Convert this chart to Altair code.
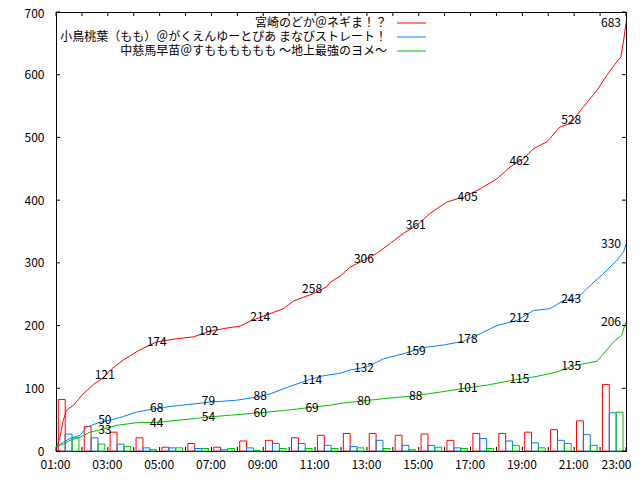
import altair as alt
import pandas as pd

# ---- data ----
names = [
    "宮崎のどか＠ネギま！？",
    "小鳥桃葉（もも）＠がくえんゆーとぴあ まなびストレート！",
    "中慈馬早苗＠すもももももも 〜地上最強のヨメ〜",
]
colors = ["#ff0000", "#0080ff", "#00c000"]

bar_hours = list(range(1, 23))
red_counts = [82, 39, 30, 21, 6, 12, 6, 16, 17, 21, 25, 28, 28, 25, 27, 17, 28, 28, 30, 34, 48, 106]
blue_counts = [27, 21, 11, 5, 5, 4, 2, 5, 12, 12, 9, 7, 17, 9, 9, 5, 20, 16, 13, 17, 26, 61]
green_counts = [21, 11, 7, 2, 5, 4, 4, 1, 4, 4, 4, 5, 4, 2, 6, 4, 4, 9, 5, 12, 9, 62]

red_t = [1.0, 1.15, 1.28, 1.41, 1.67, 2.05, 2.44, 2.83, 3.15, 3.6, 4.18, 4.63, 4.89, 5.66, 6.3,
         6.95, 7.59, 8.1, 8.49, 9.0, 9.78, 10.16, 10.93, 11.45, 11.58, 11.97, 12.35, 12.87, 13.38,
         13.9, 14.41, 14.93, 15.44, 16.08, 16.73, 17.37, 18.02, 18.53, 19.04, 19.43, 19.95, 20.46,
         20.85, 21.36, 21.88, 22.26, 22.65, 22.8, 22.9, 23.0]
red_v = [1, 22, 49, 65, 73, 91, 106, 117, 131, 145, 160, 169, 174, 179, 182,
         191, 196, 199, 207, 215, 227, 239, 251, 262, 269, 279, 293, 304, 315,
         331, 347, 360, 379, 397, 405, 418, 434, 453, 466, 482, 493, 517,
         522, 549, 575, 599, 621, 628, 652, 683]

blue_t = [1.0, 1.28, 1.54, 1.93, 2.18, 2.7, 3.08, 3.6, 4.1, 4.76, 5.4, 6.3, 6.95, 7.98, 8.75,
          9.26, 10.03, 10.8, 11.32, 11.97, 12.35, 13.0, 13.64, 14.41, 15.19, 15.96, 16.73, 17.37,
          18.02, 18.79, 19.43, 20.07, 20.59, 21.1, 21.62, 22.13, 22.65, 22.9, 23.0]
blue_v = [5, 14, 20, 25, 38, 46, 49, 55, 62, 67, 71, 75, 78, 81, 86,
          91, 103, 114, 120, 124, 129, 134, 147, 155, 165, 169, 175, 187,
          200, 208, 224, 227, 240, 243, 264, 283, 304, 317, 330]

green_t = [1.0, 1.28, 1.54, 1.93, 2.31, 2.83, 3.34, 4.1, 5.0, 6.43, 6.82, 8.88, 9.9, 10.93, 11.58,
           11.97, 12.87, 13.77, 14.8, 15.83, 16.6, 17.63, 18.66, 19.56, 20.33, 20.97, 21.88, 22.13,
           22.52, 22.84, 22.97, 23.0]
green_v = [7, 11, 17, 22, 30, 35, 41, 45, 46, 52, 54, 61, 65, 70, 73,
           76, 80, 84, 88, 94, 99, 105, 113, 119, 126, 136, 143, 155,
           174, 185, 203, 206]

label_hours = [3, 5, 7, 9, 11, 13, 15, 17, 19, 21, 23]
red_labels = [121, 174, 192, 214, 258, 306, 361, 405, 462, 528, 683]
blue_labels = [50, 68, 79, 88, 114, 132, 159, 178, 212, 243, 330]
green_labels = [33, 44, 54, 60, 69, 80, 88, 101, 115, 135, 206]

x_ticks = list(range(1, 24))
x_label_hours = list(range(1, 24, 2))
y_ticks = list(range(0, 701, 100))

# ---- tables built from the arrays ----
W, H = 570, 439
FONT = "Noto Sans CJK JP"

bars = pd.DataFrame(
    [(h, c, names[i], i) for i, cnt in enumerate([red_counts, blue_counts, green_counts])
     for h, c in zip(bar_hours, cnt)],
    columns=["hour", "count", "series", "idx"],
)
lines = pd.DataFrame(
    [(t, v, names[i]) for i, (ts, vs) in enumerate([(red_t, red_v), (blue_t, blue_v), (green_t, green_v)])
     for t, v in zip(ts, vs)],
    columns=["t", "v", "series"],
)
labels = pd.DataFrame(
    [(h, v, names[i]) for i, vals in enumerate([red_labels, blue_labels, green_labels])
     for h, v in zip(label_hours, vals)],
    columns=["hour", "value", "series"],
)
legend_df = pd.DataFrame({"series": names, "row": list(range(len(names)))})
xt = pd.DataFrame({"hour": x_ticks})
yt = pd.DataFrame({"value": y_ticks})

xscale = alt.Scale(domain=[1, 23], nice=False, zero=False)
yscale = alt.Scale(domain=[0, 700], nice=False)
cscale = alt.Scale(domain=names, range=colors)

xaxis = alt.Axis(
    values=x_label_hours, title=None, grid=False, ticks=False, tickSize=0, domain=False,
    labelExpr="(datum.value < 10 ? '0' : '') + datum.value + ':00'",
    labelFont=FONT, labelFontSize=12, labelColor="black", labelPadding=8,
    labelFlush=False, labelOverlap=False,
    labelAlign={"condition": {"test": "datum.value >= 23", "value": "right"}, "value": "center"},
    labelOffset={"condition": {"test": "datum.value >= 23", "value": 5}, "value": -1},
)
yaxis = alt.Axis(
    values=y_ticks, title=None, grid=False, ticks=False, tickSize=0, domain=False,
    labelFont=FONT, labelFontSize=12, labelColor="black", labelPadding=12,
    labelFlush=False, labelOverlap=False,
    labelOffset={"condition": {"test": "datum.value >= 700", "value": 1.5}, "value": 0},
)

bar_layer = alt.Chart(bars).transform_calculate(
    x1="datum.hour + 0.09 + 0.265 * datum.idx",
    x2="datum.hour + 0.09 + 0.265 * (datum.idx + 1)",
).mark_rect(filled=False, strokeWidth=1).encode(
    x=alt.X("x1:Q", scale=xscale, axis=xaxis),
    x2="x2:Q",
    y=alt.Y("count:Q", scale=yscale, axis=yaxis),
    y2=alt.datum(0),
    color=alt.Color("series:N", scale=cscale, legend=None),
)

line_layer = alt.Chart(lines).mark_line(strokeWidth=1).encode(
    x=alt.X("t:Q", scale=xscale),
    y=alt.Y("v:Q", scale=yscale),
    color=alt.Color("series:N", scale=cscale, legend=None),
    order="t:Q",
)

label_mid = alt.Chart(labels).transform_filter("datum.hour < 23").mark_text(
    font=FONT, fontSize=12, color="black", baseline="middle", align="center", dx=-3
).encode(
    x=alt.X("hour:Q", scale=xscale),
    y=alt.Y("value:Q", scale=yscale),
    text="value:Q",
)
label_end = alt.Chart(labels).transform_filter("datum.hour >= 23").mark_text(
    font=FONT, fontSize=12, color="black", baseline="middle", align="right", dx=-5
).encode(
    x=alt.X("hour:Q", scale=xscale),
    y=alt.Y("value:Q", scale=yscale),
    text="value:Q",
)

tick_bottom = alt.Chart(xt).mark_rule(color="black", strokeWidth=1).encode(
    x=alt.X("hour:Q", scale=xscale), y=alt.value(H), y2=alt.value(H - 4))
tick_top = alt.Chart(xt).mark_rule(color="black", strokeWidth=1).encode(
    x=alt.X("hour:Q", scale=xscale), y=alt.value(0), y2=alt.value(4))
tick_left = alt.Chart(yt).mark_rule(color="black", strokeWidth=1).encode(
    y=alt.Y("value:Q", scale=yscale), x=alt.value(0), x2=alt.value(4))
tick_right = alt.Chart(yt).mark_rule(color="black", strokeWidth=1).encode(
    y=alt.Y("value:Q", scale=yscale), x=alt.value(W), x2=alt.value(W - 4))

leg_base = alt.Chart(legend_df).transform_calculate(ypix="11 + 14 * datum.row")
leg_text = leg_base.mark_text(font=FONT, fontSize=12, color="black", align="right",
                              baseline="middle").encode(
    x=alt.value(331), y=alt.Y("ypix:Q", scale=None), text="series:N")
leg_line = leg_base.mark_rule(strokeWidth=1).encode(
    x=alt.value(341), x2=alt.value(370), y=alt.Y("ypix:Q", scale=None),
    color=alt.Color("series:N", scale=cscale, legend=None))

chart = alt.layer(
    bar_layer, line_layer, label_mid, label_end,
    tick_bottom, tick_top, tick_left, tick_right,
    leg_text, leg_line,
).properties(
    width=W, height=H,
    autosize=alt.AutoSizeParams(type="none"),
    padding={"left": 48, "top": 4, "right": 6, "bottom": 21},
    background="white",
).configure_view(stroke="black", strokeWidth=1).configure_axis(grid=False)

chart.save("out.html", embed_options={"renderer": "svg", "actions": False})
